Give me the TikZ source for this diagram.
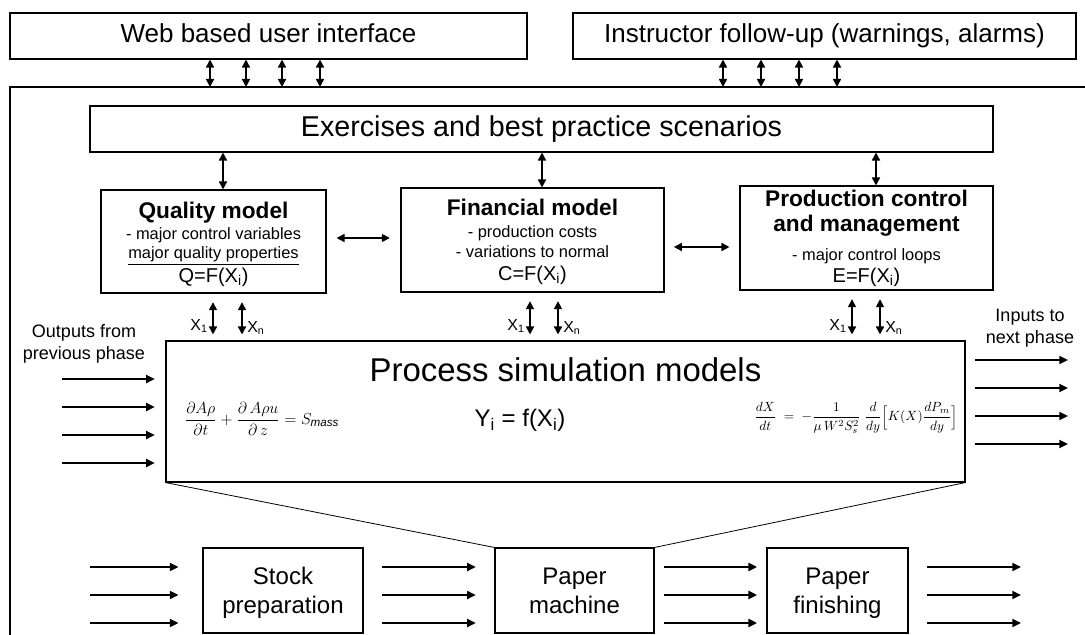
\documentclass[tikz,border=0pt]{standalone}
\usepackage{amsmath}
\usepackage{fontspec}
\setmainfont{Liberation Sans}
\usetikzlibrary{arrows.meta,fit}
\newcommand\tstrut{\rule[-0.22em]{0pt}{0.97em}}
\tikzset{
  box/.style={draw, line width=0.8pt, inner sep=0pt},
  txt/.style={inner sep=0pt, align=center, execute at begin node=\tstrut},
  mth/.style={inner sep=0pt},
  dbl/.style={line width=1.2pt, {Triangle[length=6pt,width=6pt]}-{Triangle[length=6pt,width=6pt]}},
  sgl/.style={line width=1.5pt, -{Triangle[length=6.5pt,width=6pt]}},
}
\newcommand\fsz[1]{\fontsize{#1}{1.15\dimexpr #1pt\relax}\selectfont}
\begin{document}
\begin{tikzpicture}[x=0.75pt,y=-0.75pt]
\useasboundingbox (0,0) rectangle (1085,635);
% outer frame (open to right and bottom)
\coordinate (otl) at (10,87);
\draw[line width=0.8pt] (10,635) -- (otl) -- (1085,87);
% top boxes
\node[box, fit={(10,13)(527,59)}] (web) {};
\node[txt, font=\fsz{19.5}] (webt) at (web.center) {Web based user interface};
\node[box, fit={(573,13)(1076,59)}] (instr) {};
\node[txt, font=\fsz{19.5}] (instrt) at (instr.center) {Instructor follow-up (warnings, alarms)};
\foreach \x [count=\i] in {210,246,282,320}{
  \coordinate (wa\i) at (\x,0);
  \draw[dbl] (wa\i |- web.south) -- (wa\i |- otl);
}
\foreach \x [count=\i] in {723,761,799,837}{
  \coordinate (ia\i) at (\x,0);
  \draw[dbl] (ia\i |- instr.south) -- (ia\i |- otl);
}
% exercises
\node[box, fit={(90,106)(993,152)}] (exer) {};
\node[txt, font=\fsz{21.5}] (exert) at (exer.center) {Exercises and best practice scenarios};
% model boxes
\node[box, fit={(101,190)(326,293)}] (qual) {};
\node[txt, font=\fsz{17}\bfseries] (q1) at (213.5,212) {Quality model};
\node[txt, font=\fsz{12.3}] (q2) at (213.5,235) {- major control variables};
\node[txt, font=\fsz{12.3}] (q3) at (213.5,256) {\underline{major quality properties}};
\node[txt, font=\fsz{15}] (q4) at (213.5,277) {Q=F(X\textsubscript{i})};
\node[box, fit={(401,188)(664,292)}] (fin) {};
\node[txt, font=\fsz{17}\bfseries] (f1) at (532.5,209) {Financial model};
\node[txt, font=\fsz{12.3}] (f2) at (532.5,233) {- production costs};
\node[txt, font=\fsz{12.3}] (f3) at (532.5,253) {- variations to normal};
\node[txt, font=\fsz{15}] (f4) at (532.5,275) {C=F(X\textsubscript{i})};
\node[box, fit={(740,186)(993,290)}] (prod) {};
\node[txt, font=\fsz{17}\bfseries] (p1) at (866.5,200) {Production control};
\node[txt, font=\fsz{17}\bfseries] (p2) at (866.5,225) {and management};
\node[txt, font=\fsz{12.3}] (p3) at (866.5,256) {- major control loops};
\node[txt, font=\fsz{15}] (p4) at (866.5,277) {E=F(X\textsubscript{i})};
% exercises -> models
\foreach \x/\n in {223/qual,542/fin,876/prod}{
  \coordinate (ea\n) at (\x,0);
  \draw[dbl] (ea\n |- exer.south) -- (ea\n |- \n.north);
}
% horizontal links
\coordinate (h1) at (0,238);
\coordinate (h2) at (0,247);
\draw[dbl, shorten <=7.5pt, shorten >=8pt] (qual.east |- h1) -- (fin.west |- h1);
\draw[dbl, shorten <=7pt, shorten >=7.5pt] (fin.east |- h2) -- (prod.west |- h2);
% process box
\node[box, fit={(166,341)(965,482)}] (proc) {};
\node[txt, font=\fsz{24.7}] (proct) at (565.5,373) {Process simulation models};
\node[mth, font=\fsz{12.5}] (eq1) at (262,419) {$\dfrac{\partial A\rho}{\partial t}+\dfrac{\partial\, A\rho u}{\partial\, z}=S_{\mathit{mass}}$};
\node[txt, font=\fsz{18}] (eq2) at (520,420) {Y\textsubscript{i} = f(X\textsubscript{i})};
\node[mth, font=\fsz{10}] (eq3) at (856,418) {$\dfrac{dX}{dt}\;=\;-\dfrac{1}{\mu\, W^2 S_s^2}\;\dfrac{d}{dy}\Big[K(X)\dfrac{dP_m}{dy}\Big]$};
% X arrows
\foreach \x/\n in {213/qa,242/qb,530/fa,558/fb,852/pa,880/pb}{
  \coordinate (\n) at (\x,0);
}
\foreach \n/\m in {qa/qual,qb/qual,fa/fin,fb/fin,pa/prod,pb/prod}{
  \draw[dbl, shorten <=6.5pt, shorten >=4.5pt] (\n |- \m.south) -- (\n |- proc.north);
}
\node[txt, anchor=east, font=\fsz{12}] (xq1) at (208,326) {X\textsubscript{1}};
\node[txt, anchor=west, font=\fsz{12}] (xqn) at (247,328) {X\textsubscript{n}};
\node[txt, anchor=east, font=\fsz{12}] (xf1) at (525,326) {X\textsubscript{1}};
\node[txt, anchor=west, font=\fsz{12}] (xfn) at (563,328) {X\textsubscript{n}};
\node[txt, anchor=east, font=\fsz{12}] (xp1) at (847,326) {X\textsubscript{1}};
\node[txt, anchor=west, font=\fsz{12}] (xpn) at (885,328) {X\textsubscript{n}};
% side labels and arrows
\node[txt, font=\fsz{13.5}] (outl1) at (84,333) {Outputs from};
\node[txt, font=\fsz{13.5}] (outl2) at (84,355) {previous phase};
\node[txt, font=\fsz{13.5}] (inl1) at (1030,317) {Inputs to};
\node[txt, font=\fsz{13.5}] (inl2) at (1030,339) {next phase};
\foreach \y [count=\i] in {379,407,435,463}{
  \coordinate (la\i) at (62,\y);
  \draw[sgl, shorten >=8pt] (la\i) -- (la\i -| proc.west);
}
\foreach \y [count=\i] in {360,388,416,444}{
  \coordinate (ra\i) at (1068,\y);
  \draw[sgl, shorten <=7pt] (ra\i -| proc.east) -- (ra\i);
}
% bottom row
\node[box, fit={(203,548)(363,633)}] (stock) {};
\node[txt, font=\fsz{18}] (stock1) at (283,578) {Stock};
\node[txt, font=\fsz{18}] (stock2) at (283,607) {preparation};
\node[box, fit={(495,548)(654,633)}] (mach) {};
\node[txt, font=\fsz{18}] (mach1) at (574.5,578) {Paper};
\node[txt, font=\fsz{18}] (mach2) at (574.5,607) {machine};
\node[box, fit={(767,548)(908,633)}] (fini) {};
\node[txt, font=\fsz{18}] (fini1) at (837.5,578) {Paper};
\node[txt, font=\fsz{18}] (fini2) at (837.5,607) {finishing};
\draw[line width=0.6pt] (proc.south west) -- (mach.north west);
\draw[line width=0.6pt] (proc.south east) -- (mach.north east);
\foreach \y [count=\i] in {567,595,623}{
  \coordinate (b0\i) at (90,\y);
  \coordinate (b3\i) at (1021,\y);
  \draw[sgl, shorten >=18pt] (b0\i) -- (b0\i -| stock.west);
  \draw[sgl, shorten <=14pt, shorten >=14pt] (b0\i -| stock.east) -- (b0\i -| mach.west);
  \draw[sgl, shorten <=7pt, shorten >=7pt] (b0\i -| mach.east) -- (b0\i -| fini.west);
  \draw[sgl, shorten <=14pt] (b0\i -| fini.east) -- (b3\i);
}
\end{tikzpicture}
\end{document}
